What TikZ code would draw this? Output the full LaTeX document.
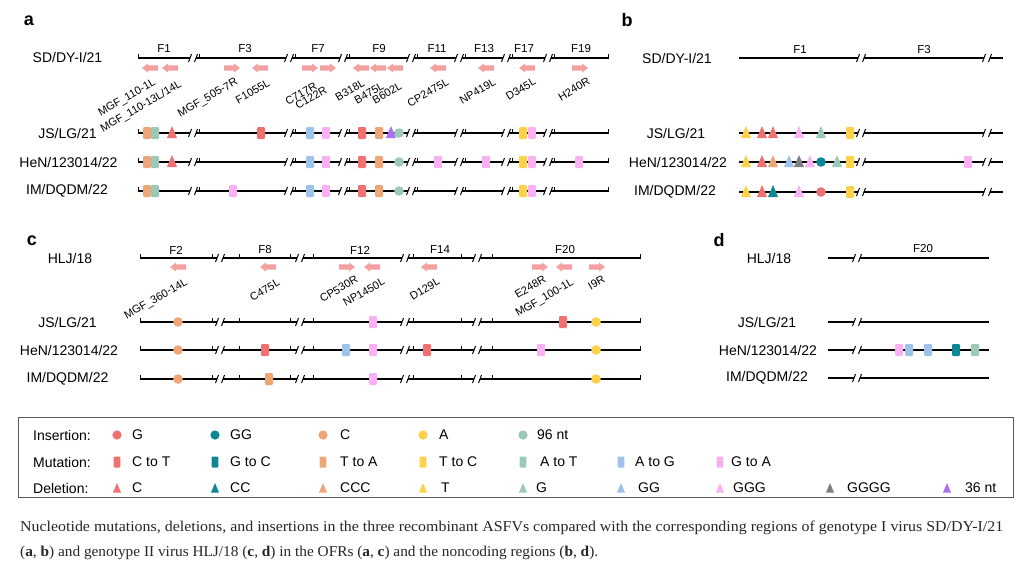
\documentclass[tikz,border=0pt]{standalone}
\usepackage{fontspec}
\setmainfont{Liberation Sans}
\newfontfamily\capfont{Liberation Serif}
\usepackage{graphicx}
\definecolor{cRed}{RGB}{240,113,113}
\definecolor{cTeal}{RGB}{11,135,150}
\definecolor{cOrange}{RGB}{239,166,119}
\definecolor{cYellow}{RGB}{253,210,74}
\definecolor{cGreen}{RGB}{156,201,183}
\definecolor{cBlue}{RGB}{157,195,232}
\definecolor{cPink}{RGB}{249,177,244}
\definecolor{cGrey}{RGB}{127,127,127}
\definecolor{cPurple}{RGB}{174,111,241}
\definecolor{arrowpink}{RGB}{245,160,160}
\tikzset{
  bb/.style={line width=1.2pt,black},
  bbthin/.style={line width=0.9pt,black},
  brkline/.style={line width=1.0pt,black},
  rowlbl/.style={font=\fontsize{14}{16}\selectfont,inner sep=0pt},
  seglbl/.style={font=\fontsize{11.5}{13}\selectfont,inner sep=0pt},
  gene/.style={font=\fontsize{11}{12}\selectfont,rotate=30,anchor=east,inner sep=0pt},
  panel/.style={font=\fontsize{18}{20}\selectfont\bfseries,inner sep=0pt},
  legtxt/.style={font=\fontsize{14}{16}\selectfont,inner sep=0pt,anchor=west},
}
\newcommand\MkSq[3]{\fill[#3,rounded corners=1.2pt] ({#1-4},{#2-6}) rectangle ({#1+4},{#2+6});}
\newcommand\MkCi[3]{\fill[#3] (#1,#2) circle (4.8pt);}
\newcommand\MkTr[3]{\fill[#3] ({#1-5},{#2+5}) -- ({#1+5},{#2+5}) -- (#1,{#2-7}) -- cycle;}
\newcommand\LgSq[3]{\fill[#3,rounded corners=1pt] ({#1-3.3},{#2-5.5}) rectangle ({#1+3.3},{#2+5.5});}
\newcommand\LgCi[3]{\fill[#3] (#1,#2) circle (4.6pt);}
\newcommand\LgTr[3]{\fill[#3] ({#1-4},{#2+4.5}) -- ({#1+4},{#2+4.5}) -- (#1,{#2-5}) -- cycle;}
\newcommand\ArrLeft[2]{\fill[arrowpink] ({#1-8},#2) -- ({#1-2},{#2-4.5}) -- ({#1-2},{#2-2.6}) -- ({#1+8},{#2-2.6}) -- ({#1+8},{#2+2.6}) -- ({#1-2},{#2+2.6}) -- ({#1-2},{#2+4.5}) -- cycle;}
\newcommand\ArrRight[2]{\fill[arrowpink] ({#1+8},#2) -- ({#1+2},{#2-4.5}) -- ({#1+2},{#2-2.6}) -- ({#1-8},{#2-2.6}) -- ({#1-8},{#2+2.6}) -- ({#1+2},{#2+2.6}) -- ({#1+2},{#2+4.5}) -- cycle;}
\newcommand\BrkMark[2]{\fill[white] ({#1-3},{#2-1.5}) rectangle ({#1+3},{#2+1.5});
  \draw[brkline] ({#1-4.5},{#2+4}) -- ({#1-1.5},{#2-4}) ({#1+1.5},{#2+4}) -- ({#1+4.5},{#2-4});}
\newcommand\TickMark[2]{\draw[bbthin] (#1,{#2+0.5}) -- (#1,{#2-4.5});}
\newcommand\BackA[1]{\draw[bb] (138,#1) -- (608,#1);
  \foreach \b in {193,289,343,411,459,506,548}{\BrkMark{\b}{#1}\TickMark{\b+6}{#1}}
  \TickMark{138}{#1}\TickMark{608}{#1}}
\newcommand\BackB[1]{\draw[bb] (739,#1) -- (1003,#1);
  \foreach \b in {861,987}{\BrkMark{\b}{#1}}}
\newcommand\BackC[1]{\draw[bb] (140,#1) -- (640,#1);
  \foreach \b in {220,300,405,477}{\BrkMark{\b}{#1}}
  \foreach \t in {140,212,239,290,313,413,461,492,640}{\TickMark{\t}{#1}}}
\newcommand\BackD[1]{\draw[bb] (828,#1) -- (989,#1);
  \BrkMark{857}{#1}}
\begin{document}
\begin{tikzpicture}[x=1pt,y=-1pt]
\useasboundingbox (0,0) rectangle (1026,571);
\fill[white] (0,0) rectangle (1026,571);
% ---------------- panel a
\node[panel] (pa) at (29,21) {a};
\node[rowlbl] (a0) at (67.5,57) {SD/DY-I/21};
\node[rowlbl] (a1) at (67.5,133) {JS/LG/21};
\node[rowlbl] (a2) at (68.5,162) {HeN/123014/22};
\node[rowlbl] (a3) at (67,191) {IM/DQDM/22};
\BackA{58}\BackA{133}\BackA{162}\BackA{191}
\foreach \n/\x in {F1/164,F3/245,F7/318,F9/379,F11/437,F13/484,F17/524,F19/581}
  {\node[seglbl] (sa\n) at (\x,49) {\n};}
\ArrLeft{150}{68}\ArrLeft{170}{68}\ArrRight{232}{68}\ArrLeft{260}{68}
\ArrRight{310}{68}\ArrRight{328}{68}\ArrLeft{361}{68}\ArrLeft{378}{68}
\ArrLeft{395}{68}\ArrLeft{438}{68}\ArrLeft{486}{68}\ArrLeft{527}{68}\ArrRight{580}{68}
\node[gene] (g1) at (155,82) {MGF\_110-1L};
\node[gene] (g2) at (181,84) {MGF\_110-13L/14L};
\node[gene] (g3) at (237,81.5) {MGF\_505-7R};
\node[gene] (g4) at (269,82) {F1055L};
\node[gene] (g5) at (316,85) {C717R};
\node[gene] (g6) at (326,89) {C122R};
\node[gene] (g7) at (364,82) {B318L};
\node[gene] (g8) at (383,85) {B475L};
\node[gene] (g9) at (401,85) {B602L};
\node[gene] (g10) at (448,81) {CP2475L};
\node[gene] (g11) at (495,81) {NP419L};
\node[gene] (g12) at (535,80.5) {D345L};
\node[gene] (g13) at (589,80.5) {H240R};
% JS/LG/21
\MkSq{147}{133}{cOrange}\MkSq{155}{133}{cGreen}\MkTr{172}{133}{cRed}\MkSq{261}{133}{cRed}
\MkSq{310}{133}{cBlue}\MkSq{326}{133}{cPink}\MkSq{362}{133}{cRed}\MkSq{379}{133}{cOrange}
\MkTr{391}{133}{cPurple}\MkCi{399}{133}{cGreen}\MkSq{523}{133}{cYellow}\MkSq{532}{133}{cPink}
% HeN
\MkSq{147}{162}{cOrange}\MkSq{155}{162}{cGreen}\MkTr{172}{162}{cRed}
\MkSq{310}{162}{cBlue}\MkSq{326}{162}{cPink}\MkSq{362}{162}{cRed}\MkSq{379}{162}{cOrange}
\MkCi{399}{162}{cGreen}\MkSq{438}{162}{cPink}\MkSq{486}{162}{cPink}
\MkSq{523}{162}{cYellow}\MkSq{532}{162}{cPink}\MkSq{579}{162}{cPink}
% IM
\MkSq{147}{191}{cOrange}\MkSq{155}{191}{cGreen}\MkSq{233}{191}{cPink}
\MkSq{310}{191}{cBlue}\MkSq{326}{191}{cPink}\MkSq{362}{191}{cRed}\MkSq{379}{191}{cOrange}
\MkCi{399}{191}{cGreen}\MkSq{523}{191}{cYellow}\MkSq{532}{191}{cPink}
% ---------------- panel b
\node[panel] (pb) at (627,20) {b};
\node[rowlbl] (b0) at (677,58) {SD/DY-I/21};
\node[rowlbl] (b1) at (676,133) {JS/LG/21};
\node[rowlbl] (b2) at (678,162) {HeN/123014/22};
\node[rowlbl] (b3) at (675,192) {IM/DQDM/22};
\BackB{58}\BackB{133}\BackB{162}\BackB{192}
\node[seglbl] (sbF1) at (800,50) {F1};
\node[seglbl] (sbF3) at (924,50) {F3};
\MkTr{746}{133}{cYellow}\MkTr{762}{133}{cRed}\MkTr{773}{133}{cRed}\MkTr{799}{133}{cPink}
\MkTr{821}{133}{cGreen}\MkSq{850}{133}{cYellow}
\MkTr{746}{162}{cYellow}\MkTr{762}{162}{cRed}\MkTr{773}{162}{cOrange}\MkTr{789}{162}{cBlue}
\MkTr{799}{162}{cGrey}\MkTr{810}{162}{cPink}\MkCi{821}{162}{cTeal}\MkTr{837}{162}{cGreen}
\MkSq{850}{162}{cYellow}\MkSq{968}{162}{cPink}
\MkTr{746}{192}{cYellow}\MkTr{762}{192}{cRed}\MkTr{773}{192}{cTeal}\MkTr{799}{192}{cPink}
\MkCi{821}{192}{cRed}\MkSq{850}{192}{cYellow}
% ---------------- panel c
\node[panel] (pc) at (32,241) {c};
\node[rowlbl] (c0) at (70,258) {HLJ/18};
\node[rowlbl] (c1) at (67.5,322) {JS/LG/21};
\node[rowlbl] (c2) at (69,350) {HeN/123014/22};
\node[rowlbl] (c3) at (67.5,379) {IM/DQDM/22};
\BackC{258}\BackC{322}\BackC{350}\BackC{379}
\foreach \n/\x in {F2/176,F8/265,F12/360,F14/440,F20/565}
  {\node[seglbl] (sc\n) at (\x,250) {\n};}
\ArrLeft{178}{267}\ArrLeft{268}{267}\ArrRight{347}{267}\ArrLeft{372}{267}
\ArrLeft{429}{267}\ArrRight{540}{267}\ArrLeft{564}{267}\ArrRight{597}{267}
\node[gene] (h1) at (187,281.5) {MGF\_360-14L};
\node[gene] (h2) at (279,281.5) {C475L};
\node[gene] (h3) at (357,278.5) {CP530R};
\node[gene] (h4) at (384,280.5) {NP1450L};
\node[gene] (h5) at (439,280.5) {D129L};
\node[gene] (h6) at (545,278.5) {E248R};
\node[gene] (h7) at (573,282) {MGF\_100-1L};
\node[gene] (h8) at (604,278.5) {I9R};
\MkCi{178}{322}{cOrange}\MkSq{373}{322}{cPink}\MkSq{563}{322}{cRed}\MkCi{596}{322}{cYellow}
\MkCi{178}{350}{cOrange}\MkSq{265}{350}{cRed}\MkSq{346}{350}{cBlue}\MkSq{373}{350}{cPink}
\MkSq{427}{350}{cRed}\MkSq{541}{350}{cPink}\MkCi{596}{350}{cYellow}
\MkCi{178}{379}{cOrange}\MkSq{269}{379}{cOrange}\MkSq{373}{379}{cPink}\MkCi{596}{379}{cYellow}
% ---------------- panel d
\node[panel] (pd) at (719,240) {d};
\node[rowlbl] (d0) at (769,258) {HLJ/18};
\node[rowlbl] (d1) at (767,322) {JS/LG/21};
\node[rowlbl] (d2) at (768,350) {HeN/123014/22};
\node[rowlbl] (d3) at (767,378) {IM/DQDM/22};
\BackD{258}\BackD{322}\BackD{350}\BackD{378}
\node[seglbl] (sdF20) at (923,249) {F20};
\MkSq{899}{350}{cPink}\MkSq{909}{350}{cBlue}\MkSq{928}{350}{cBlue}\MkSq{956}{350}{cTeal}\MkSq{975}{350}{cGreen}
% ---------------- legend
\draw[line width=0.8pt,black!65] (18,417) rectangle (1013,497);
\node[legtxt] (li) at (33,435) {Insertion:};
\node[legtxt] (lm) at (33,462) {Mutation:};
\node[legtxt] (ld) at (33,488) {Deletion:};
\LgCi{117}{435}{cRed}\node[legtxt] (i1) at (132,435) {G};
\LgCi{215}{435}{cTeal}\node[legtxt] (i2) at (230,435) {GG};
\LgCi{323}{435}{cOrange}\node[legtxt] (i3) at (340,435) {C};
\LgCi{423}{435}{cYellow}\node[legtxt] (i4) at (439,435) {A};
\LgCi{523}{435}{cGreen}\node[legtxt] (i5) at (537,435) {96 nt};
\LgSq{117}{462}{cRed}\node[legtxt] (m1) at (132,462) {C to T};
\LgSq{215}{462}{cTeal}\node[legtxt] (m2) at (230,462) {G to C};
\LgSq{323}{462}{cOrange}\node[legtxt] (m3) at (340,462) {T to A};
\LgSq{423}{462}{cYellow}\node[legtxt] (m4) at (439,462) {T to C};
\LgSq{523}{462}{cGreen}\node[legtxt] (m5) at (540,462) {A to T};
\LgSq{621}{462}{cBlue}\node[legtxt] (m6) at (635,462) {A to G};
\LgSq{720}{462}{cPink}\node[legtxt] (m7) at (731,462) {G to A};
\LgTr{117}{488}{cRed}\node[legtxt] (e1) at (132,488) {C};
\LgTr{215}{488}{cTeal}\node[legtxt] (e2) at (230,488) {CC};
\LgTr{323}{488}{cOrange}\node[legtxt] (e3) at (340,488) {CCC};
\LgTr{423}{488}{cYellow}\node[legtxt] (e4) at (441,488) {T};
\LgTr{523}{488}{cGreen}\node[legtxt] (e5) at (536,488) {G};
\LgTr{621}{488}{cBlue}\node[legtxt] (e6) at (638,488) {GG};
\LgTr{720}{488}{cPink}\node[legtxt] (e7) at (733,488) {GGG};
\LgTr{830}{488}{cGrey}\node[legtxt] (e8) at (847,488) {GGGG};
\LgTr{947}{488}{cPurple}\node[legtxt] (e9) at (965,488) {36 nt};
% ---------------- caption
\node[anchor=base west,inner sep=0pt,text=black!85] (cap1) at (20,531) {\capfont\fontsize{15}{17}\selectfont\resizebox{983pt}{\height}{Nucleotide mutations, deletions, and insertions in the three recombinant ASFVs compared with the corresponding regions of genotype I virus SD/DY-I/21}};
\node[anchor=base west,inner sep=0pt,text=black!85] (cap2) at (20,556) {\capfont\fontsize{15}{17}\selectfont\resizebox{578pt}{\height}{(\textbf{a}, \textbf{b}) and genotype II virus HLJ/18 (\textbf{c}, \textbf{d}) in the OFRs (\textbf{a}, \textbf{c}) and the noncoding regions (\textbf{b}, \textbf{d}).}};
\end{tikzpicture}
\end{document}
